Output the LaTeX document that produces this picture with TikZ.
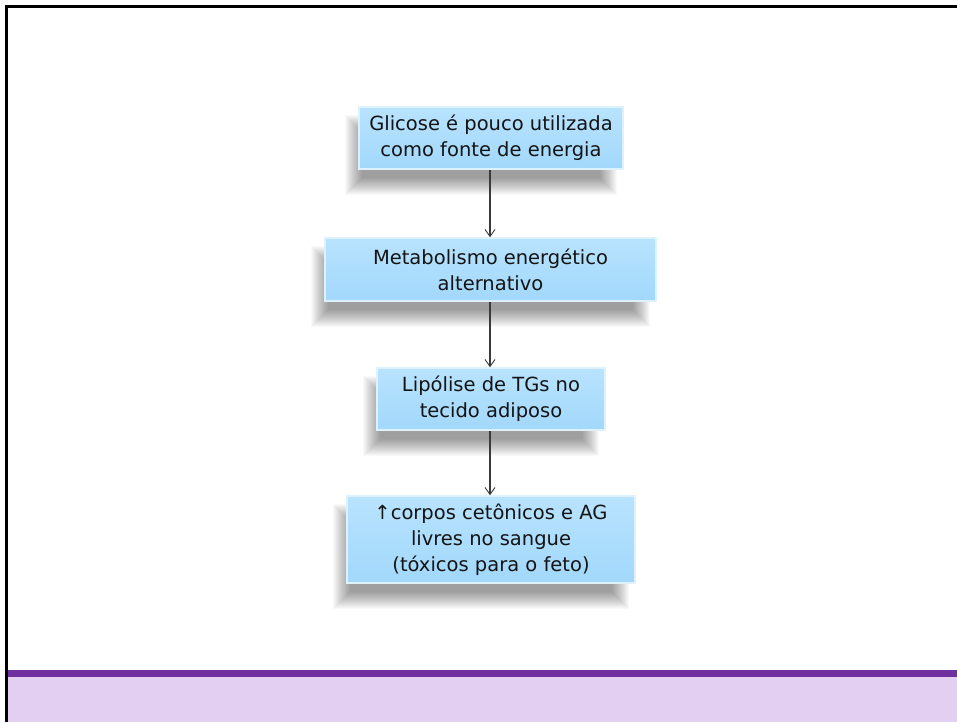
\documentclass[tikz,border=0pt]{standalone}
\usepackage{fontspec}
\setmainfont{DejaVu Sans}
\usetikzlibrary{arrows.meta}
\definecolor{barpurple}{HTML}{7030A0}
\definecolor{lightpurple}{HTML}{E2CFF1}
\definecolor{boxtop}{HTML}{B8E3FE}
\definecolor{boxbot}{HTML}{A2D8FB}
\definecolor{arrowgray}{HTML}{3A3A3A}
\tikzset{
  flowbox/.style={rectangle, draw=white!65!boxbot, line width=1.5pt, top color=boxtop, bottom color=boxbot,
    align=center, inner sep=0pt, font=\fontsize{19.5}{26}\selectfont, text=black!92},
  flowarrow/.style={draw=arrowgray, line width=1.1pt, -{Straight Barb[length=7pt,width=10pt,line width=0.9pt]}},
}
\newcommand{\softshadow}[4]{% left, top, right, bottom (px, y down)
  \foreach \i in {0,...,17}{
    \fill[black, opacity=0.022] (#1-14+\i, #2+8+\i) rectangle (#3-6-\i, #4+26-\i);
  }
}
\begin{document}
\begin{tikzpicture}[x=1pt,y=-1pt]
\useasboundingbox (0,0) rectangle (957,722);
\fill[white] (0,0) rectangle (957,722);
% bottom band
\fill[lightpurple] (5,677) rectangle (957,722);
\fill[barpurple] (5,670) rectangle (957,677);
% slide border
\fill[black] (5,5) rectangle (957,8);
\fill[black] (5,5) rectangle (8,722);
% shadows
\softshadow{359}{107}{623}{169}
\softshadow{325}{238}{656}{301}
\softshadow{377}{368}{605}{430}
\softshadow{347}{496}{635}{583}
% boxes
\node[flowbox, minimum width=264pt, minimum height=62pt] (b1) at (491,138) {Glicose é pouco utilizada\\como fonte de energia};
\node[flowbox, minimum width=331pt, minimum height=63pt] (b2) at (490.5,269.5) {Metabolismo energético\\alternativo};
\node[flowbox, minimum width=228pt, minimum height=62pt] (b3) at (491,399) {Lipólise de TGs no\\tecido adiposo};
\node[flowbox, minimum width=288pt, minimum height=87pt] (b4) at (491,539.5) {↑corpos cetônicos e AG\\livres no sangue\\(tóxicos para o feto)};
% arrows
\draw[flowarrow] (b1.south -| 490,0) -- (b2.north -| 490,0);
\draw[flowarrow] (b2.south -| 490,0) -- (b3.north -| 490,0);
\draw[flowarrow] (b3.south -| 490,0) -- (b4.north -| 490,0);
\end{tikzpicture}
\end{document}
